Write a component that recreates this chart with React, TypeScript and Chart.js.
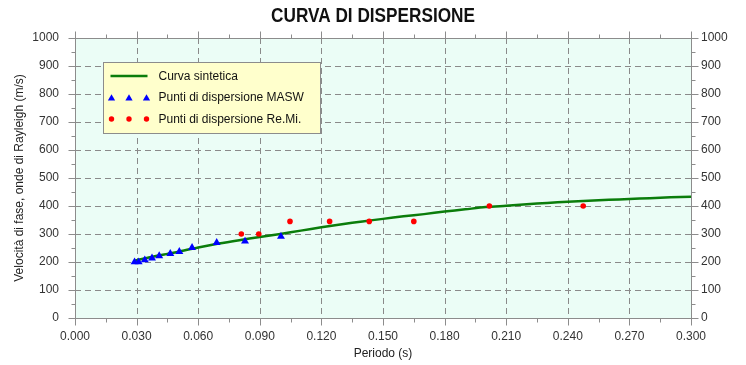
import React, { useEffect, useRef } from "react";
import { Chart, registerables } from "chart.js";

Chart.register(...registerables);

const chartTitle = "CURVA DI DISPERSIONE";
const xAxisTitle = "Periodo (s)";
const yAxisTitle = "Velocità di fase, onde di Rayleigh (m/s)";

const xTickValues = [0, 0.03, 0.06, 0.09, 0.12, 0.15, 0.18, 0.21, 0.24, 0.27, 0.3];
const yTickValues = [0, 100, 200, 300, 400, 500, 600, 700, 800, 900, 1000];

const curveLabel = "Curva sintetica";
const curveX = [0.029, 0.035, 0.04, 0.045, 0.05, 0.06, 0.07, 0.08, 0.09, 0.1, 0.11, 0.12, 0.13, 0.14, 0.15, 0.16, 0.17, 0.18, 0.19, 0.2, 0.21, 0.22, 0.23, 0.24, 0.25, 0.26, 0.27, 0.28, 0.29, 0.3];
const curveY = [205, 214, 222, 229, 236, 252, 266, 278, 289, 300, 312, 324, 335, 345, 354, 363, 371, 380, 388, 396, 401, 406, 411, 415, 419, 422, 425, 428, 431, 433];

const maswLabel = "Punti di dispersione MASW";
const maswX = [0.029, 0.031, 0.034, 0.0375, 0.041, 0.0464, 0.0508, 0.057, 0.069, 0.0828, 0.1003];
const maswY = [200, 200, 207, 214, 222, 230, 237, 251, 269, 274, 291];

const remiLabel = "Punti di dispersione Re.Mi.";
const remiX = [0.081, 0.0895, 0.1047, 0.124, 0.1433, 0.165, 0.2018, 0.2475];
const remiY = [300, 300, 345, 345, 345, 345, 400, 400];

const FONT = "'Liberation Sans', Arial, sans-serif";

const decorPlugin = {
  id: "decor",
  beforeDraw(chart: any) {
    const { ctx, chartArea: ca, width } = chart;
    ctx.save();
    ctx.fillStyle = "#ffffff";
    ctx.fillRect(0, 0, chart.width, chart.height);
    ctx.fillStyle = "#ebfdf6";
    ctx.fillRect(ca.left, ca.top, ca.right - ca.left, ca.bottom - ca.top);
    // title (condensed bold)
    ctx.fillStyle = "#111111";
    ctx.font = "bold 20px " + FONT;
    ctx.textAlign = "center";
    ctx.textBaseline = "middle";
    ctx.translate(width / 2, 16);
    ctx.scale(0.86, 1);
    ctx.fillText(chartTitle, 0, 0);
    ctx.restore();
  },
  beforeDatasetsDraw(chart: any) {
    const { ctx, chartArea: ca, scales } = chart;
    const xs = scales.x;
    const ys = scales.y;
    ctx.save();
    ctx.strokeStyle = "#8a8a8a";
    ctx.lineWidth = 1;
    ctx.setLineDash([6, 4]);
    xTickValues.forEach((v, i) => {
      if (i === 0 || i === xTickValues.length - 1) return;
      const px = Math.round(xs.getPixelForValue(v)) + 0.5;
      ctx.beginPath();
      ctx.moveTo(px, ca.top);
      ctx.lineTo(px, ca.bottom);
      ctx.stroke();
    });
    yTickValues.forEach((v, i) => {
      if (i === 0 || i === yTickValues.length - 1) return;
      const py = Math.round(ys.getPixelForValue(v)) + 0.5;
      ctx.beginPath();
      ctx.moveTo(ca.left, py);
      ctx.lineTo(ca.right, py);
      ctx.stroke();
    });
    ctx.restore();
  },
  afterDatasetsDraw(chart: any) {
    const { ctx, chartArea: ca, scales } = chart;
    const xs = scales.x;
    const ys = scales.y;
    ctx.save();
    ctx.strokeStyle = "#8c8c8c";
    ctx.lineWidth = 1;
    ctx.setLineDash([]);
    const L = Math.round(ca.left) + 0.5;
    const R = Math.round(ca.right) + 0.5;
    const T = Math.round(ca.top) + 0.5;
    const B = Math.round(ca.bottom) + 0.5;
    ctx.strokeRect(L, T, R - L, B - T);
    for (let i = 0; i < xTickValues.length; i++) {
      const v = xTickValues[i];
      const px = Math.round(xs.getPixelForValue(v)) + 0.5;
      ctx.beginPath();
      ctx.moveTo(px, B); ctx.lineTo(px, B + 7);
      ctx.moveTo(px, T); ctx.lineTo(px, T - 7);
      ctx.stroke();
      if (i < xTickValues.length - 1) {
        const mv = (v + xTickValues[i + 1]) / 2;
        const mx = Math.round(xs.getPixelForValue(mv)) + 0.5;
        ctx.beginPath();
        ctx.moveTo(mx, B); ctx.lineTo(mx, B + 4);
        ctx.moveTo(mx, T); ctx.lineTo(mx, T - 4);
        ctx.stroke();
      }
    }
    for (let i = 0; i < yTickValues.length; i++) {
      const v = yTickValues[i];
      const py = Math.round(ys.getPixelForValue(v)) + 0.5;
      ctx.beginPath();
      ctx.moveTo(L, py); ctx.lineTo(L - 7, py);
      ctx.moveTo(R, py); ctx.lineTo(R + 7, py);
      ctx.stroke();
      if (i < yTickValues.length - 1) {
        const mv = (v + yTickValues[i + 1]) / 2;
        const my = Math.round(ys.getPixelForValue(mv)) + 0.5;
        ctx.beginPath();
        ctx.moveTo(L, my); ctx.lineTo(L - 4, my);
        ctx.moveTo(R, my); ctx.lineTo(R + 4, my);
        ctx.stroke();
      }
    }
    // legend box
    const bx = Math.round(ca.left + 28) + 0.5;
    const by = Math.round(ca.top + 24) + 0.5;
    const bw = 217;
    const bh = 71;
    ctx.fillStyle = "#ffffcc";
    ctx.fillRect(bx, by, bw, bh);
    ctx.strokeStyle = "#8c8c8c";
    ctx.strokeRect(bx, by, bw, bh);
    const ds = chart.data.datasets;
    const rows = [13.5, 35, 56.5];
    ctx.font = "12px " + FONT;
    ctx.textAlign = "left";
    ctx.textBaseline = "middle";
    ds.forEach((d: any, i: number) => {
      const cy = by + rows[i];
      if (i === 0) {
        ctx.strokeStyle = d.borderColor;
        ctx.lineWidth = 2.5;
        ctx.beginPath();
        ctx.moveTo(bx + 7, cy);
        ctx.lineTo(bx + 44, cy);
        ctx.stroke();
      } else {
        [bx + 8, bx + 25.5, bx + 43].forEach((sx) => {
          ctx.fillStyle = d.backgroundColor;
          ctx.beginPath();
          if (d.pointStyle === "triangle") {
            const r = 4.2;
            const c = cy + 1;
            ctx.moveTo(sx, c - r);
            ctx.lineTo(sx + r * Math.sin((2 * Math.PI) / 3), c + r / 2);
            ctx.lineTo(sx - r * Math.sin((2 * Math.PI) / 3), c + r / 2);
            ctx.closePath();
          } else {
            ctx.arc(sx, cy, 2.7, 0, Math.PI * 2);
          }
          ctx.fill();
        });
      }
      ctx.fillStyle = "#111111";
      ctx.fillText(d.label, bx + 55, cy + 0.5);
    });
    ctx.restore();
  },
};

export default function App() {
  const canvasRef = useRef<HTMLCanvasElement | null>(null);

  useEffect(() => {
    if (!canvasRef.current) return;
    const tickFont = { family: FONT, size: 12 };
    const plainLabel = (v: any) => String(Math.round(Number(v)));
    const chart = new Chart(canvasRef.current, {
      type: "scatter",
      data: {
        datasets: [
          {
            label: curveLabel,
            data: curveX.map((x, i) => ({ x, y: curveY[i] })),
            showLine: true,
            borderColor: "#0b7d0b",
            backgroundColor: "#0b7d0b",
            borderWidth: 2.5,
            pointRadius: 0,
            tension: 0.3,
            order: 3,
          },
          {
            label: maswLabel,
            data: maswX.map((x, i) => ({ x, y: maswY[i] })),
            pointStyle: "triangle",
            pointRadius: 4.6,
            backgroundColor: "#0000ff",
            borderColor: "#0000ff",
            borderWidth: 0,
            order: 2,
          },
          {
            label: remiLabel,
            data: remiX.map((x, i) => ({ x, y: remiY[i] })),
            pointStyle: "circle",
            pointRadius: 2.8,
            backgroundColor: "#ff0000",
            borderColor: "#ff0000",
            borderWidth: 0,
            order: 1,
          },
        ],
      },
      options: {
        animation: false,
        responsive: false,
        devicePixelRatio: 1,
        layout: { padding: { top: 38, left: 0, right: 0, bottom: 0 } },
        plugins: {
          legend: { display: false },
          tooltip: { enabled: false },
          title: { display: false },
        },
        scales: {
          x: {
            type: "linear",
            position: "bottom",
            min: 0,
            max: 0.3,
            afterBuildTicks: (s: any) => {
              s.ticks = xTickValues.map((v) => ({ value: v }));
            },
            afterFit: (s: any) => {
              s.height = 47;
            },
            ticks: {
              font: tickFont,
              color: "#333333",
              padding: 11,
              maxRotation: 0,
              autoSkip: false,
              callback: (v: any) => Number(v).toFixed(3),
            },
            grid: { display: false, drawTicks: false },
            border: { display: false },
            title: {
              display: true,
              text: xAxisTitle,
              font: tickFont,
              color: "#222222",
              padding: { top: 0, bottom: 4 },
            },
          },
          y: {
            type: "linear",
            position: "left",
            min: 0,
            max: 1000,
            afterBuildTicks: (s: any) => {
              s.ticks = yTickValues.map((v) => ({ value: v }));
            },
            afterFit: (s: any) => {
              s.width = 75;
            },
            ticks: { font: tickFont, color: "#333333", padding: 16, autoSkip: false, callback: plainLabel },
            grid: { display: false, drawTicks: false },
            border: { display: false },
            title: {
              display: true,
              text: yAxisTitle,
              font: tickFont,
              color: "#222222",
              padding: { top: 12, bottom: 0 },
            },
          },
          y2: {
            type: "linear",
            position: "right",
            min: 0,
            max: 1000,
            afterBuildTicks: (s: any) => {
              s.ticks = yTickValues.map((v) => ({ value: v }));
            },
            afterFit: (s: any) => {
              s.width = 55;
            },
            ticks: { font: tickFont, color: "#333333", padding: 10, autoSkip: false, callback: plainLabel },
            grid: { display: false, drawTicks: false },
            border: { display: false },
          },
        },
      },
      plugins: [decorPlugin],
    });
    return () => chart.destroy();
  }, []);

  return (
    <div style={{ position: "fixed", left: 0, top: 0, width: 746, height: 365 }}>
      <canvas ref={canvasRef} width={746} height={365} style={{ display: "block" }} />
    </div>
  );
}
